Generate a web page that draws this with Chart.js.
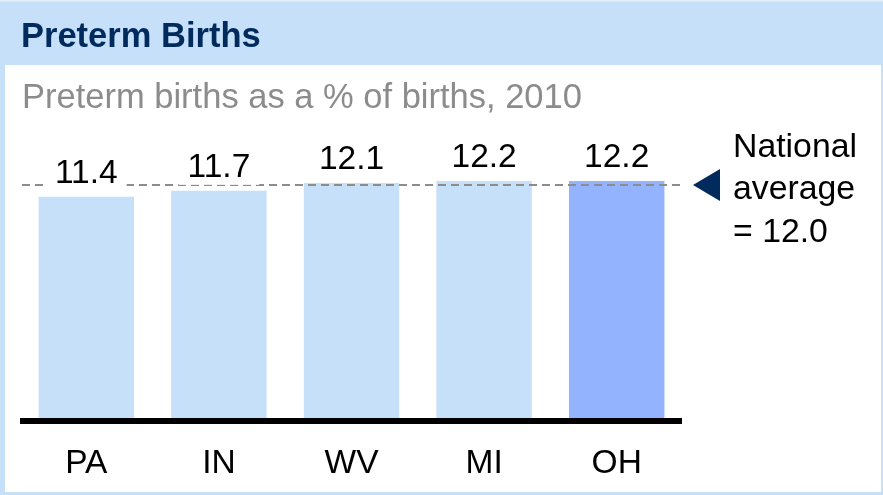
<!DOCTYPE html>
<html>
<head>
<meta charset="utf-8">
<script src="https://cdn.jsdelivr.net/npm/chart.js@4"></script>
<style>
  html, body { margin: 0; padding: 0; background: #ffffff; }
  #wrap { width: 883px; height: 495px; }
</style>
</head>
<body>
<div id="wrap"><canvas id="c" width="883" height="495"></canvas></div>
<script>
const categories = ['PA', 'IN', 'WV', 'MI', 'OH'];
const values = [11.4, 11.7, 12.1, 12.2, 12.2];
const valueLabels = ['11.4', '11.7', '12.1', '12.2', '12.2'];
const nationalAverage = 12.0;
const averageLines = ['National', 'average', '= 12.0'];
const titleText = 'Preterm Births';
const subtitleText = 'Preterm births as a % of births, 2010';

const FONT = '"Liberation Sans", Arial, Helvetica, sans-serif';
const LIGHT = '#C6E0FA';
const HIGHLIGHT = '#93B3FF';
const NAVY = '#002B5C';

const decorPlugin = {
  id: 'decor',
  beforeDraw(chart) {
    const ctx = chart.ctx;
    const W = chart.width, H = chart.height;
    ctx.save();
    ctx.fillStyle = LIGHT;
    ctx.fillRect(0, 0, W, H);
    ctx.fillStyle = '#E4F0FC';
    ctx.fillRect(0, 0, W, 1.5);
    ctx.fillStyle = '#ffffff';
    ctx.fillRect(5, 65, W - 5 - 2, H - 65 - 3);
    ctx.fillStyle = NAVY;
    ctx.font = 'bold 34.5px ' + FONT;
    ctx.textBaseline = 'alphabetic';
    ctx.textAlign = 'left';
    ctx.fillText(titleText, 21, 47);
    ctx.fillStyle = '#8C8C8C';
    ctx.font = '34.5px ' + FONT;
    ctx.fillText(subtitleText, 22, 108);
    ctx.restore();
  },
  afterDatasetsDraw(chart) {
    const ctx = chart.ctx;
    const ys = chart.scales.y;
    const area = chart.chartArea;
    ctx.save();
    // baseline
    const y0 = ys.getPixelForValue(0);
    ctx.fillStyle = '#000000';
    ctx.fillRect(area.left, y0 - 3, area.right - area.left - 1, 6);
    // national average dashed line
    const ya = ys.getPixelForValue(nationalAverage);
    ctx.strokeStyle = '#8C8C8C';
    ctx.lineWidth = 2;
    ctx.setLineDash([8, 5]);
    ctx.beginPath();
    ctx.moveTo(area.left + 2, ya);
    ctx.lineTo(area.right - 1, ya);
    ctx.stroke();
    ctx.setLineDash([]);
    // value labels with white mask
    ctx.font = '33.5px ' + FONT;
    ctx.textAlign = 'center';
    ctx.textBaseline = 'alphabetic';
    const meta = chart.getDatasetMeta(0);
    meta.data.forEach((bar, i) => {
      const txt = valueLabels[i];
      const w = ctx.measureText(txt).width;
      const base = bar.y - 14;
      ctx.fillStyle = '#ffffff';
      ctx.fillRect(bar.x - w / 2 - 9, base - 28, w + 18, 36);
      ctx.fillStyle = '#000000';
      ctx.fillText(txt, bar.x, base);
    });
    // triangle marker
    ctx.fillStyle = NAVY;
    ctx.beginPath();
    ctx.moveTo(693, ya);
    ctx.lineTo(720, ya - 16);
    ctx.lineTo(720, ya + 16);
    ctx.closePath();
    ctx.fill();
    // annotation text
    ctx.fillStyle = '#000000';
    ctx.font = '33.8px ' + FONT;
    ctx.textAlign = 'left';
    const bases = [157, 199, 241.5];
    averageLines.forEach((t, i) => ctx.fillText(t, 733, bases[i]));
    ctx.restore();
  }
};

new Chart(document.getElementById('c'), {
  type: 'bar',
  data: {
    labels: categories,
    datasets: [{
      data: values,
      backgroundColor: categories.map(c => c === 'OH' ? HIGHLIGHT : LIGHT),
      borderWidth: 0,
      barPercentage: 0.72,
      categoryPercentage: 1.0
    }]
  },
  options: {
    responsive: false,
    devicePixelRatio: 1,
    animation: false,
    layout: { padding: { left: 20, right: 200, top: 145.6, bottom: 0 } },
    plugins: { legend: { display: false }, tooltip: { enabled: false }, title: { display: false } },
    scales: {
      x: {
        grid: { display: false, drawTicks: false },
        border: { display: false },
        ticks: { color: '#000000', font: { family: FONT, size: 33.5 }, padding: 23, maxRotation: 0 },
        afterFit(scale) { scale.height = 74; }
      },
      y: { display: false, min: 0, max: 14 }
    }
  },
  plugins: [decorPlugin]
});
</script>
</body>
</html>
